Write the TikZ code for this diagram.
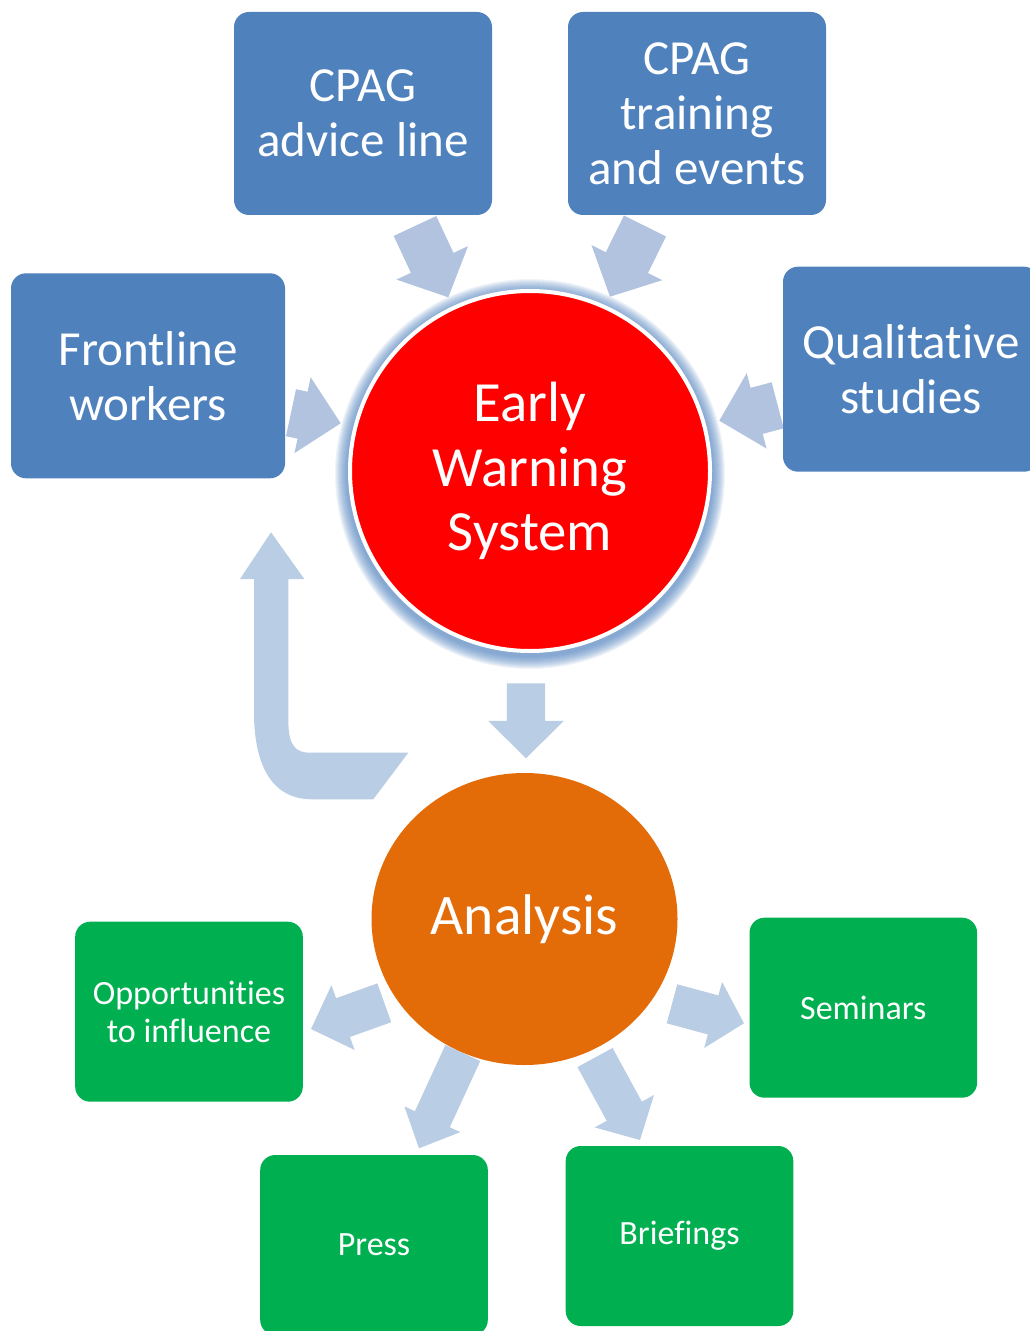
\documentclass[tikz,border=0pt]{standalone}
\usepackage{fontspec}
\setmainfont{Carlito}[Ligatures={NoCommon,NoContextual,NoRequired}, Contextuals=NoAlternate]
\usetikzlibrary{shapes.geometric, calc, backgrounds}
\definecolor{boxblue}{HTML}{4F81BD}
\definecolor{boxgreen}{HTML}{00B050}
\definecolor{ewsred}{HTML}{FF0000}
\definecolor{anaorange}{HTML}{E36C09}
\definecolor{arrowtop}{HTML}{B1C3DE}
\definecolor{arrowlow}{HTML}{B9CDE5}
\definecolor{glowblue}{HTML}{4F81BD}

\newcommand{\blockarrow}[6][arrowlow]{
  \coordinate (hb) at ($(#3)!#6!(#2)$);
  \fill[#1] ($(#2)!#4!90:(#3)$) -- ($(hb)!#4!90:(#3)$) -- ($(hb)!#5!90:(#3)$) -- (#3)
    -- ($(hb)!#5!-90:(#3)$) -- ($(hb)!#4!-90:(#3)$) -- ($(#2)!#4!-90:(#3)$) -- cycle;
}

\begin{document}
\begin{tikzpicture}[x=0.5pt, y=-0.5pt,
    bluebox/.style={rectangle, rounded corners=7.5pt, fill=boxblue, text=white, align=center,
      inner sep=0pt, minimum width=129pt, minimum height=101.5pt, font=\fontsize{24.5}{27.5}\selectfont},
    greenbox/.style={rectangle, rounded corners=7.5pt, fill=boxgreen, text=white, align=center,
      inner sep=0pt, minimum width=113.8pt, minimum height=90pt, font=\fontsize{17}{18.75}\selectfont}]
  \useasboundingbox (0,0) rectangle (1029,1331);

  \node[bluebox] (advice) at (363,113.5) {CPAG\\advice line};
  \node[bluebox] (training) at (697,113.5) {CPAG\\training\\and events};
  \node[bluebox, minimum width=137pt, minimum height=102.5pt] (frontline) at (148,375.8) {Frontline\\workers};
  \node[bluebox, minimum width=128pt, minimum height=102.5pt] (qualitative) at (911,369.2) {Qualitat\kern0pt ive\\studies};

  \node[circle, fill=ewsred, draw=white, line width=2pt, minimum size=180pt, text=white, align=center,
    font=\fontsize{28.4}{32.25}\selectfont] (ews) at (530,471) {Early\\Warning\\System};
  \node[ellipse, fill=anaorange, minimum width=153pt, minimum height=146pt, inner sep=0pt, text=white,
    font=\fontsize{28.7}{32}\selectfont] (analysis) at (524.5,919) {Analysis};

  \node[greenbox] (influence) at (189,1011.7) {Opportunit\kern0pt ies\\to influence};
  \node[greenbox] (seminars) at (863.3,1007.7) {Seminars};
  \node[greenbox] (press) at (374,1245) {Press};
  \node[greenbox] (briefings) at (679.5,1236) {Briefings};

  \coordinate (adviceTail) at (415,226);
  \coordinate (adviceTip) at (448.3,297.3);
  \coordinate (trainingTail) at (645,226);
  \coordinate (trainingTip) at (610,296.7);
  \coordinate (frontlineTail) at (291,412.7);
  \coordinate (frontlineTip) at (340.7,423.3);
  \coordinate (qualitativeTail) at (777.7,405.3);
  \coordinate (qualitativeTip) at (719.3,420.7);
  \coordinate (downTail) at (526,683.3);
  \coordinate (downTip) at (526,758.3);
  \coordinate (loopEnd) at (408.3,752.7);
  \coordinate (loopTip) at (271,532.3);
  \coordinate (influenceTail) at (384.3,1002.8);
  \coordinate (influenceTip) at (311,1029);
  \coordinate (pressTail) at (462.8,1053);
  \coordinate (pressTip) at (419,1148.3);
  \coordinate (briefingsTail) at (595,1057.5);
  \coordinate (briefingsTip) at (640,1140);
  \coordinate (seminarsTail) at (672,1003.8);
  \coordinate (seminarsTip) at (744,1023.3);

  \begin{scope}[on background layer]
    \foreach \k [evaluate=\k as \r using 182+\k] in {1,...,13}
      \fill[glowblue, opacity=0.085] (ews.center) ++(0,3) circle (\r);

    \blockarrow[arrowtop]{adviceTail}{adviceTip}{11.75pt}{19.75pt}{19pt}
    \blockarrow[arrowtop]{trainingTail}{trainingTip}{11.75pt}{19.75pt}{19pt}
    \blockarrow[arrowtop]{frontlineTail}{frontlineTip}{12pt}{19.4pt}{19.5pt}
    \blockarrow[arrowtop]{qualitativeTail}{qualitativeTip}{11.9pt}{19.5pt}{19.3pt}
    \blockarrow{downTail}{downTip}{9.6pt}{18.9pt}{18.7pt}

    \fill[arrowlow] (loopTip) -- (304.3,579) -- (288.3,579) -- (288.3,720)
      .. controls (288.3,745) and (295,752.7) .. (310,752.7) -- (loopEnd) -- (373.3,799.3) -- (312,799.3)
      .. controls (275,799.3) and (254,770) .. (254,712) -- (254,579) -- (240,579) -- cycle;

    \blockarrow{influenceTail}{influenceTip}{10.3pt}{17.2pt}{17pt}
    \blockarrow{pressTail}{pressTip}{9.6pt}{15.4pt}{16pt}
    \blockarrow{briefingsTail}{briefingsTip}{10pt}{16.9pt}{16.4pt}
    \blockarrow{seminarsTail}{seminarsTip}{10.1pt}{17.1pt}{16pt}
  \end{scope}
\end{tikzpicture}
\end{document}
